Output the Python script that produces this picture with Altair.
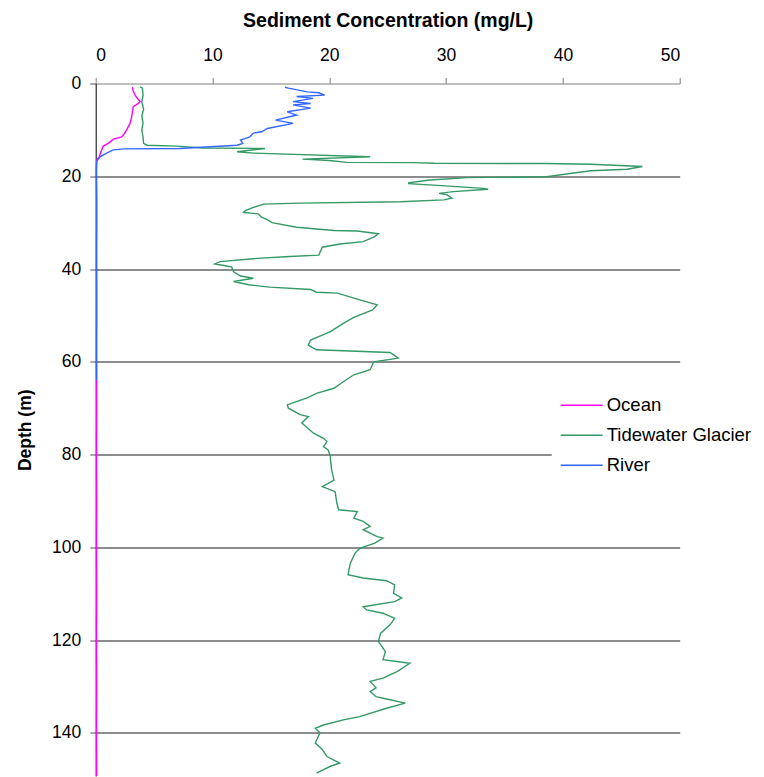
import altair as alt
import pandas as pd

SERIES = ["Ocean", "Tidewater Glacier", "River"]
COLORS = ["#FF00FF", "#339966", "#3366FF"]

ocean_depth = [0.8, 1.5, 2.5, 3.3, 3.9, 4.3, 5.0, 6.0, 7.2, 8.6, 10.0, 11.0, 11.5, 12.0,
               12.9, 13.5, 14.7, 15.8, 16.5, 20, 30, 40, 50, 60, 70, 80, 90, 100, 110,
               120, 130, 140, 149.3]
ocean_conc = [3.14, 3.2, 3.37, 3.6, 3.8, 3.65, 3.22, 3.15, 3.08, 2.94, 2.65, 2.4, 2.23, 1.51,
              1.08, 0.65, 0.45, 0.31, 0.08, 0.07, 0.08, 0.07, 0.08, 0.07, 0.08, 0.07, 0.08,
              0.07, 0.08, 0.07, 0.08, 0.07, 0.08]

glacier_depth = [0.7, 1.0, 2.5, 4.0, 5.5, 7.0, 8.5, 10.0, 11.5, 12.9, 13.3, 13.5, 13.9, 14.0,
                 14.7, 15.0, 15.8, 16.3, 16.6, 17.0, 17.05, 17.2, 17.25, 17.4, 17.9, 18.5,
                 18.8, 19.4, 20.1, 20.3, 20.8, 21.4, 21.6, 21.9, 22.6, 22.8, 23.3, 23.7,
                 24.0, 24.7, 25.1, 25.5, 25.8, 26.0, 26.7, 27.4, 27.8, 28.1, 28.8, 29.3,
                 30.0, 31.0, 31.7, 31.8, 32.4, 33.1, 34.1, 34.6, 35.3, 37.0, 37.3, 37.7,
                 38.4, 38.9, 39.3, 39.6, 40.6, 41.5, 42.0, 42.7, 43.4, 43.9, 44.4, 45.0,
                 45.2, 46.5, 47.7, 48.8, 50.4, 51.7, 53.5, 55.3, 56.4, 57.4, 58.0, 59.2,
                 60.0, 61.7, 62.8, 64.3, 65.7, 66.8, 67.8, 69.3, 70.0, 71.4, 71.8, 73.2,
                 75.4, 76.5, 77.2, 78.3, 79.0, 80.4, 81.1, 83.3, 85.5, 86.9, 88.0, 90.5,
                 91.9, 92.3, 93.7, 94.4, 95.5, 96.2, 97.7, 98.0, 99.1, 100.2, 101.3, 103.4,
                 105.9, 106.6, 107.2, 108.1, 109.9, 110.9, 111.7, 112.8, 113.5, 114.2,
                 115.3, 116.7, 118.5, 120.3, 122.5, 124.2, 125.0, 126.8, 128.2, 128.9,
                 130.3, 131.1, 132.2, 132.7, 133.6, 134.7, 136.5, 137.2, 138.3, 139.0,
                 140.0, 142.2, 143.6, 145.1, 146.5, 147.2, 148.7]
glacier_conc = [3.8, 4.0, 4.05, 3.95, 4.1, 3.95, 4.05, 3.95, 4.05, 4.1, 4.4, 6.9, 9.2, 14.5,
                12.1, 13.5, 23.5, 17.7, 20.0, 21.5, 27.2, 29.0, 38.6, 42.4, 46.8, 45.5,
                42.4, 40.6, 38.6, 31.8, 28.6, 26.8, 26.8, 28.9, 33.2, 33.6, 30.6, 29.4,
                30.1, 30.5, 29.8, 26.1, 17.5, 14.4, 13.5, 12.8, 12.65, 13.9, 14.2, 14.65,
                15.1, 17.2, 20.4, 22.4, 24.2, 23.8, 22.9, 20.9, 19.4, 19.1, 16.6, 13.8,
                10.65, 10.2, 11.1, 11.65, 11.8, 12.4, 13.5, 11.8, 13.1, 14.9, 18.4, 18.9,
                20.7, 22.4, 24.1, 23.7, 22.1, 21.2, 20.1, 18.4, 18.2, 18.9, 25.2, 25.9,
                23.8, 23.5, 22.1, 21.2, 20.4, 18.9, 18.1, 16.4, 16.5, 17.5, 18.2, 17.65,
                18.65, 19.5, 19.8, 19.5, 19.9, 20.1, 20.1, 20.2, 20.4, 19.4, 20.5, 20.65,
                20.8, 22.4, 22.1, 22.9, 23.5, 22.9, 24.1, 24.6, 23.9, 22.6, 22.2, 21.8,
                21.6, 22.9, 24.9, 25.6, 25.5, 26.2, 25.6, 22.9, 23.2, 24.6,
                25.6, 25.2, 24.4, 24.2, 24.8, 24.6, 26.9, 25.8, 24.6, 23.5,
                24.0, 23.5, 24.0, 24.9, 26.5, 24.9, 22.6, 21.2, 19.5, 18.8,
                19.2, 18.8, 19.4, 19.8, 20.9, 20.1, 18.9]

river_depth = [0.8, 1.0, 1.8, 2.0, 2.5, 2.8, 3.2, 3.9, 4.3, 4.6, 5.3, 6.1, 6.8, 7.9, 8.6,
               9.7, 10.4, 10.7, 11.5, 12.2, 12.9, 13.3, 14.0, 14.1, 14.3, 15.0, 15.8, 16.8,
               18.6, 25, 35, 45, 55, 64]
river_conc = [16.2, 16.5, 18.1, 19.1, 19.6, 17.2, 18.6, 16.9, 18.4, 16.9, 18.4, 16.4, 17.2,
              15.4, 16.9, 14.7, 14.2, 13.5, 13.2, 12.4, 12.6, 12.1, 7.2, 2.4, 1.5, 0.94,
              0.37, 0.08, 0.05, 0.08, 0.07, 0.08, 0.07, 0.08]

rows = []
for name, ds, cs in [("Ocean", ocean_depth, ocean_conc),
                     ("Tidewater Glacier", glacier_depth, glacier_conc),
                     ("River", river_depth, river_conc)]:
    for i, (d, c) in enumerate(zip(ds, cs)):
        rows.append({"series": name, "depth": d, "conc": c, "idx": i})
df = pd.DataFrame(rows)

FONT = "Liberation Sans"

color = alt.Color(
    "series:N",
    scale=alt.Scale(domain=SERIES, range=COLORS),
    legend=alt.Legend(
        orient="none", legendX=456, legendY=300, fillColor="white", padding=8,
        symbolType="stroke", symbolSize=1764, symbolStrokeWidth=1.4,
        labelFontSize=18.5, labelFont=FONT, labelColor="black",
        clipHeight=27.5, rowPadding=2, labelOffset=3, title=None,
    ),
)
x = alt.X(
    "conc:Q",
    scale=alt.Scale(domain=[0, 50], nice=False),
    axis=alt.Axis(
        orient="top", values=[0, 10, 20, 30, 40, 50], grid=False,
        title="Sediment Concentration (mg/L)", titleFont=FONT, titleFontSize=19.5,
        titleFontWeight="bold", titleColor="black", titlePadding=16,
        labelFont=FONT, labelFontSize=17.5, labelColor="black", labelPadding=13,
        tickSize=6, tickColor="#808080", domainColor="#808080",
    ),
)
y = alt.Y(
    "depth:Q",
    scale=alt.Scale(domain=[0, 149.3], reverse=True, nice=False),
    axis=alt.Axis(
        values=[0, 20, 40, 60, 80, 100, 120, 140], grid=True,
        gridColor={"condition": {"test": "datum.value == 0", "value": "transparent"}, "value": "#1a1a1a"},
        gridWidth=1,
        title="Depth (m)", titleFont=FONT, titleFontSize=17.5, titleFontWeight="bold",
        titleColor="black", titlePadding=17,
        labelFont=FONT, labelFontSize=17.5, labelColor="black", labelPadding=9,
        tickSize=6, tickColor="#555555", domainColor="black",
    ),
)

base = alt.Chart(df).mark_line(strokeWidth=1.4).encode(
    x=x, y=y, color=color, order=alt.Order("idx:Q")
)
layers = [base.transform_filter(alt.datum.series == s) for s in SERIES]

chart = alt.layer(*layers).properties(
    width=584, height=692.5,
    autosize=alt.AutoSizeParams(type="none"),
    padding={"left": 95.7, "top": 83.5, "right": 84.3, "bottom": 1},
).configure_view(stroke=None)

chart.save("out.html", embed_options={"renderer": "svg", "actions": False})
